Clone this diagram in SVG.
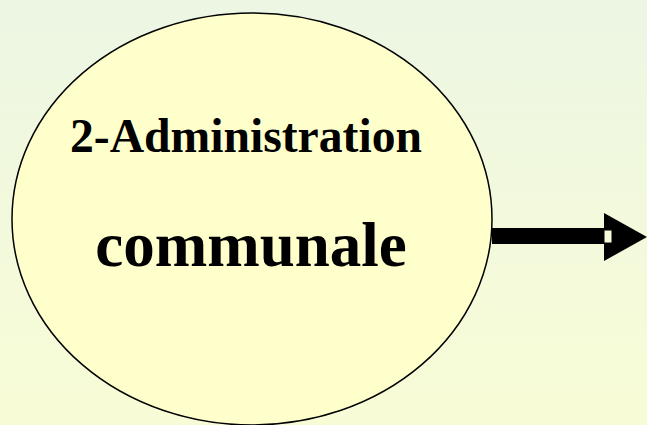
<svg xmlns="http://www.w3.org/2000/svg" width="647" height="425" viewBox="0 0 647 425">
<defs>
<linearGradient id="bg" x1="0" y1="0" x2="0" y2="1">
<stop offset="0" stop-color="#ECF6E3"/>
<stop offset="1" stop-color="#F8FCD6"/>
</linearGradient>
<style>
.lbl{font-family:"Liberation Serif","Times New Roman",serif;font-weight:bold;fill:#000;text-anchor:middle}
</style>
</defs>
<rect x="0" y="0" width="647" height="425" fill="url(#bg)"/>
<g id="node-admin">
<ellipse cx="252" cy="219" rx="240" ry="206" fill="#FFFFCC" stroke="#000" stroke-width="1.5"/>
<text class="lbl" x="246" y="152" font-size="48" textLength="352" lengthAdjust="spacingAndGlyphs">2-Administration</text>
<text class="lbl" x="251" y="266" font-size="63">communale</text>
</g>
<g id="connectors">
<rect x="492" y="228" width="113" height="16" fill="#000"/>
<polygon points="604,213 647,237 604,261" fill="#000"/>
<rect x="604.5" y="230.5" width="7" height="12" fill="#F6FBDA"/>
</g>
</svg>
